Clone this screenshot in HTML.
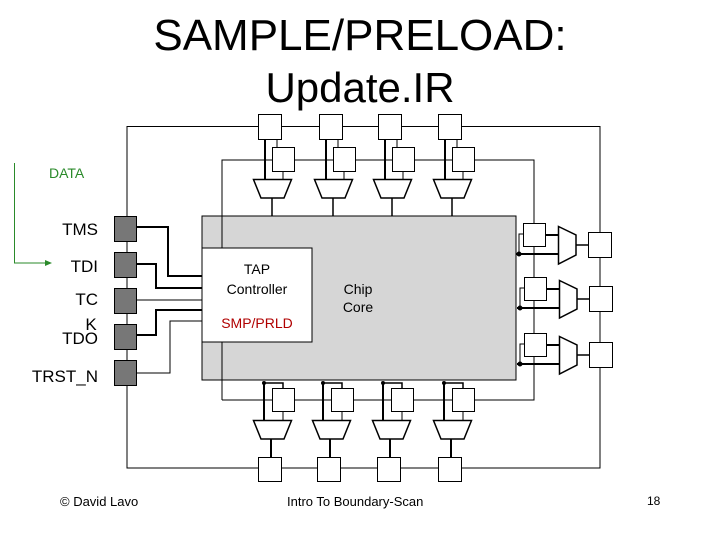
<!DOCTYPE html>
<html><head><style>
html,body{margin:0;padding:0;background:#fff;}
svg{display:block;}
text{font-family:"Liberation Sans",Arial,sans-serif;}
</style></head><body>
<svg width="720" height="540" viewBox="0 0 720 540" xmlns="http://www.w3.org/2000/svg">
<rect width="720" height="540" fill="#fff"/>
<text x="360" y="50" font-size="44" text-anchor="middle">SAMPLE/PRELOAD:</text>
<text x="360" y="102" font-size="42" text-anchor="middle">Update.IR</text>

<g stroke="#000" stroke-width="1" fill="none">
<polyline points="127,216 127,126.5 600,126.5 600,468 127,468 127,385"/>
<line x1="127" y1="241" x2="127" y2="252"/><line x1="127" y1="277" x2="127" y2="288"/>
<line x1="127" y1="313" x2="127" y2="324"/><line x1="127" y1="349" x2="127" y2="360"/>
<polyline points="222,400 222,160 534,160 534,400 222,400"/>
</g>

<rect x="202" y="216" width="314" height="164" fill="#d6d6d6" stroke="#000" stroke-width="1"/>
<line x1="222" y1="216" x2="222" y2="380" stroke="#000" stroke-width="1"/>
<rect x="202" y="248" width="110" height="94" fill="#fff" stroke="#000" stroke-width="1"/>
<text x="257" y="274" font-size="14" text-anchor="middle">TAP</text>
<text x="257" y="294" font-size="14" text-anchor="middle">Controller</text>
<text x="257" y="328" font-size="14" text-anchor="middle" fill="#b00000">SMP/PRLD</text>
<text x="358" y="294" font-size="14" text-anchor="middle">Chip</text>
<text x="358" y="312" font-size="14" text-anchor="middle">Core</text>

<g stroke="#000" fill="none">
<polyline points="136,227 168,227 168,276 202,276" stroke-width="2"/>
<polyline points="136,264 156,264 156,288 202,288" stroke-width="2"/>
<polyline points="136,300 202,300" stroke-width="1"/>
<polyline points="136,335 156,335 156,310 202,310" stroke-width="2"/>
<polyline points="136,373 170,373 170,321 202,321" stroke-width="1"/>
</g>
<g fill="#777" stroke="#000">
<rect x="114.5" y="216.5" width="22" height="25"/>
<rect x="114.5" y="252.5" width="22" height="25"/>
<rect x="114.5" y="288.5" width="22" height="25"/>
<rect x="114.5" y="324.5" width="22" height="25"/>
<rect x="114.5" y="360.5" width="22" height="25"/>
</g>

<g stroke="#000" fill="none" stroke-width="1">
<g id="tc">
<line x1="265" y1="139" x2="265" y2="180" stroke-width="2"/>
<polyline points="277,139 277,147"/>
<line x1="283" y1="171" x2="283" y2="180"/>
<polygon points="253.5,179.5 291.5,179.5 284,198 261,198" fill="#fff" stroke-width="1.5"/>
<line x1="272" y1="198" x2="272" y2="216" stroke-width="1.5"/>
<rect x="258.5" y="114.5" width="23" height="25" fill="#fff"/>
<rect x="272.5" y="147.5" width="22" height="24" fill="#fff"/>
</g>
<use href="#tc" x="61"/>
<use href="#tc" x="120"/>
<use href="#tc" x="180"/>
</g>

<g stroke="#000" fill="none" stroke-width="1">
<g id="bc">
<line x1="264" y1="383" x2="264" y2="420" stroke-width="2"/>
<polyline points="264,383 283,383 283,388" stroke-width="1.5"/>
<circle cx="264" cy="383" r="1.5" fill="#000"/>
<line x1="283" y1="411" x2="283" y2="420"/>
<polygon points="253.5,420.5 291.5,420.5 284,439 261,439" fill="#fff" stroke-width="1.5"/>
<line x1="271" y1="439" x2="271" y2="457" stroke-width="2"/>
<rect x="272.5" y="388.5" width="22" height="23" fill="#fff"/>
<rect x="258.5" y="457.5" width="23" height="24" fill="#fff"/>
</g>
<use href="#bc" x="59"/>
<use href="#bc" x="119"/>
<use href="#bc" x="180"/>
</g>

<g stroke="#000" fill="none" stroke-width="1">
<g id="rc">
<line x1="516" y1="254" x2="558" y2="254" stroke-width="2"/>
<polyline points="523,234 519,234 519,254" stroke-width="1"/>
<circle cx="519" cy="254" r="2" fill="#000"/>
<line x1="546" y1="235" x2="558" y2="235" stroke-width="2"/>
<polygon points="558.5,226.5 576,235 576,255 558.5,264" fill="#fff" stroke-width="1.5"/>
<line x1="576" y1="245" x2="588" y2="245" stroke-width="1.5"/>
<rect x="523.5" y="223.5" width="22" height="23" fill="#fff"/>
<rect x="588.5" y="232.5" width="23" height="25" fill="#fff"/>
</g>
<use href="#rc" x="1" y="54"/>
<use href="#rc" x="1" y="110"/>
</g>

<g fill="none" stroke="#2a8a2a" stroke-width="1">
<polyline points="14.5,163 14.5,263 48,263"/>
</g>
<polygon points="52,263 45,260 45,266" fill="#2a8a2a"/>
<text x="49" y="178" font-size="14" fill="#2a8a2a">DATA</text>
<text x="98" y="235" font-size="17" text-anchor="end">TMS</text>
<text x="98" y="272" font-size="17" text-anchor="end">TDI</text>
<text x="98" y="305" font-size="17" text-anchor="end">TC</text>
<text x="91" y="330" font-size="17" text-anchor="middle">K</text>
<text x="98" y="344" font-size="17" text-anchor="end">TDO</text>
<text x="98" y="382" font-size="17" text-anchor="end">TRST_N</text>

<text x="60" y="506" font-size="13">© David Lavo</text>
<text x="287" y="506" font-size="13">Intro To Boundary-Scan</text>
<text x="647" y="505" font-size="12">18</text>
</svg>
</body></html>
